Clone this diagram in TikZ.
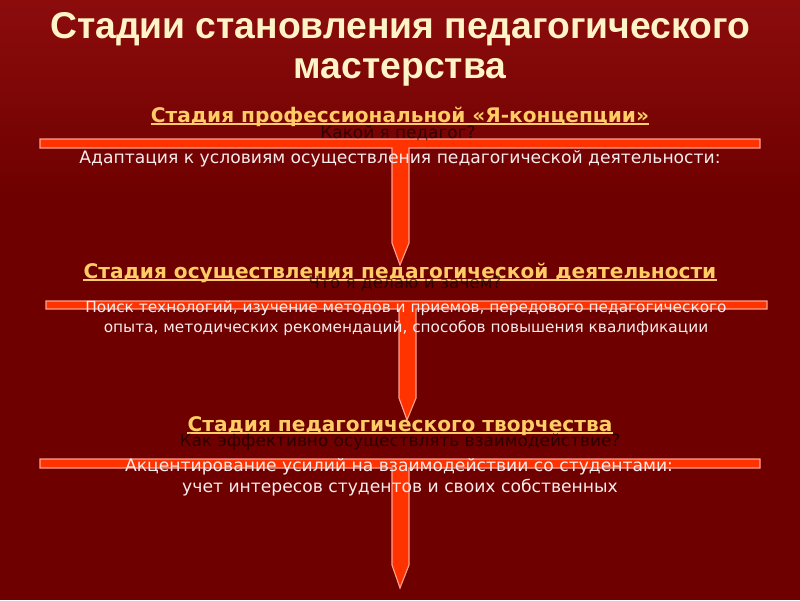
\documentclass[tikz,border=0pt]{standalone}
\usepackage{fontspec}
\setmainfont{DejaVu Sans}
\newfontfamily\titlefont{Liberation Sans}

\definecolor{fon}{HTML}{6E0000}
\definecolor{fonlight}{HTML}{8C0C0C}
\definecolor{strela}{HTML}{FF3300}
\definecolor{kontur}{HTML}{FFA090}
\definecolor{zagl}{HTML}{FFF4C8}
\definecolor{stadia}{HTML}{FFCC66}
\definecolor{tekst}{HTML}{F8ECEC}

\begin{document}
\begin{tikzpicture}[x=0.025cm, y=-0.025cm,
		titul/.style={anchor=base, inner sep=0, text=zagl, font=\titlefont\bfseries\fontsize{26.5}{30}\selectfont},
		stadia/.style={anchor=base, inner sep=0, text=stadia, font=\bfseries\fontsize{14.3}{17}\selectfont},
		podcherk/.style={draw=stadia, line width=1.4pt},
		vopros/.style={anchor=base, inner sep=0, text=black, text opacity=0.6, font=\fontsize{12}{14}\selectfont},
		tekst/.style={anchor=base, inner sep=0, text=tekst, font=\fontsize{12.2}{14}\selectfont},
		melkij/.style={tekst, font=\fontsize{10.9}{12}\selectfont},
		strelka/.style={fill=strela, draw=kontur, line width=0.8pt, line join=miter}]
		\useasboundingbox (0,0) rectangle (800,600);
		\fill[fon] (0,0) rectangle (800,600);
		\shade[top color=fonlight, bottom color=fon] (0,0) rectangle (800,200);

		% стрелки
		\draw[strelka] (40,139) -- (760,139) -- (760,148) -- (409,148) -- (409,243)
			-- (400,265) -- (392,243) -- (392,148) -- (40,148) -- cycle;
		\draw[strelka] (46,301) -- (767,301) -- (767,309) -- (416,309) -- (416,398)
			-- (407,420) -- (399,398) -- (399,309) -- (46,309) -- cycle;
		\draw[strelka] (40,459) -- (760,459) -- (760,468) -- (409,468) -- (409,565)
			-- (400,588) -- (392,565) -- (392,468) -- (40,468) -- cycle;

		% заголовок
		\node[titul] (t1) at (400,38) {Стадии становления педагогического};
		\node[titul] (t2) at (400,78) {мастерства};

		% стадии
		\node[stadia] (s1) at (400,122) {Стадия профессиональной «Я-концепции»};
		\node[stadia] (s2) at (400,278) {Стадия осуществления педагогической деятельности};
		\node[stadia] (s3) at (400,431) {Стадия педагогического творчества};
		\foreach \s in {s1,s2,s3}
			\draw[podcherk] ([yshift=-1.6pt]\s.base west) -- ([yshift=-1.6pt]\s.base east);

		% вопросы
		\node[vopros] (v1) at (398,138) {Какой я педагог?};
		\node[vopros] (v2) at (405,288) {Что я делаю и зачем?};
		\node[vopros] (v3) at (400,446) {Как эффективно осуществлять взаимодействие?};

		% пояснения
		\node[tekst] (p1) at (400,163) {Адаптация к условиям осуществления педагогической деятельности:};
		\node[melkij] (p2) at (406,312) {Поиск технологий, изучение методов и приемов, передового педагогического};
		\node[melkij] (p3) at (406,332) {опыта, методических рекомендаций, способов повышения квалификации};
		\node[tekst] (p4) at (399,471) {Акцентирование усилий на взаимодействии со студентами:};
		\node[tekst] (p5) at (400,492) {учет интересов студентов и своих собственных};
	\end{tikzpicture}
\end{document}
